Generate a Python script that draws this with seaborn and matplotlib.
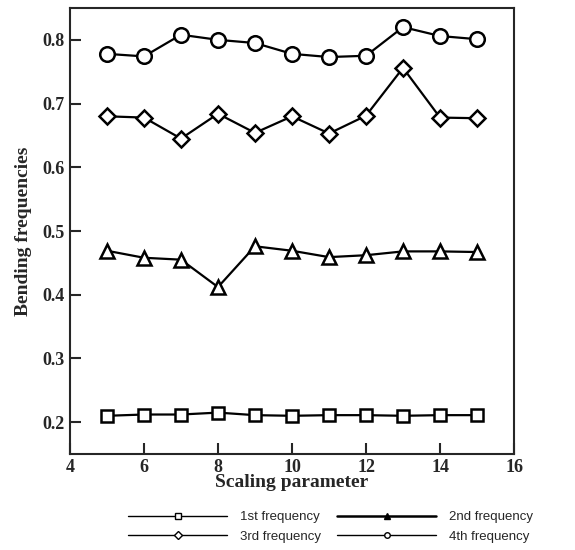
import matplotlib
matplotlib.use("Agg")
import matplotlib.pyplot as plt
import seaborn as sns
import pandas as pd

# Scaling parameter values and the four bending frequencies
scaling = [5, 6, 7, 8, 9, 10, 11, 12, 13, 14, 15]
freq1 = [0.210, 0.212, 0.212, 0.215, 0.211, 0.210, 0.211, 0.211, 0.210, 0.211, 0.211]
freq2 = [0.469, 0.458, 0.455, 0.412, 0.476, 0.469, 0.459, 0.462, 0.468, 0.468, 0.467]
freq3 = [0.680, 0.678, 0.645, 0.684, 0.654, 0.680, 0.653, 0.681, 0.756, 0.678, 0.677]
freq4 = [0.778, 0.774, 0.808, 0.800, 0.795, 0.778, 0.773, 0.775, 0.820, 0.806, 0.801]
series_names = ["1st frequency", "2nd frequency", "3rd frequency", "4th frequency"]
series_values = [freq1, freq2, freq3, freq4]
x_ticks = [4, 6, 8, 10, 12, 14, 16]
y_ticks = [0.2, 0.3, 0.4, 0.5, 0.6, 0.7, 0.8]

rows = []
for name, vals in zip(series_names, series_values):
    for s, v in zip(scaling, vals):
        rows.append({"Scaling parameter": s, "Bending frequencies": v, "series": name})
df = pd.DataFrame(rows)

sns.set_style("ticks")
plt.rcParams["font.family"] = ["Liberation Serif", "DejaVu Serif"]

fig = plt.figure(figsize=(5.75, 5.5), dpi=100)
ax = fig.add_axes([0.1217, 0.1745, 0.7723, 0.811])

markers = {"1st frequency": "s", "2nd frequency": "^",
           "3rd frequency": "D", "4th frequency": "o"}
msize = {"1st frequency": 8.5, "2nd frequency": 9.5,
         "3rd frequency": 8, "4th frequency": 10.5}

for name in series_names:
    sub = df[df["series"] == name]
    sns.lineplot(data=sub, x="Scaling parameter", y="Bending frequencies",
                 ax=ax, color="black", linewidth=1.6, marker=markers[name],
                 markersize=msize[name], markerfacecolor="white",
                 markeredgecolor="black", markeredgewidth=1.8,
                 label=name, legend=False)

ax.set_xlim(4, 16)
ax.set_ylim(0.15, 0.85)
ax.set_xticks(x_ticks)
ax.set_yticks(y_ticks)
ax.set_yticklabels([f"{t:.1f}" for t in y_ticks])
ax.tick_params(direction="in", length=8, width=1.5, labelsize=13,
               top=False, right=False)
for lbl in ax.get_xticklabels() + ax.get_yticklabels():
    lbl.set_fontweight("bold")
for sp in ax.spines.values():
    sp.set_linewidth(1.5)
    sp.set_visible(True)

ax.set_xlabel("Scaling parameter", fontsize=14, fontweight="bold", labelpad=-1)
ax.set_ylabel("Bending frequencies", fontsize=14, fontweight="bold", labelpad=8)

# Legend entries read row by row: 1st, 2nd / 3rd, 4th
handles, labels = ax.get_legend_handles_labels()
order = [0, 2, 1, 3]
leg = fig.legend([handles[i] for i in order], [labels[i] for i in order],
                 loc="center", bbox_to_anchor=(0.575, 0.042),
                 ncol=2, frameon=False, handlelength=7.5, handletextpad=1.0,
                 columnspacing=1.2, labelspacing=0.55,
                 prop={"family": "Liberation Sans", "size": 9.5})
for h, lab in zip(leg.legend_handles, [labels[i] for i in order]):
    h.set_markersize(4)
    h.set_markeredgewidth(1.0)
    h.set_linewidth(1.0)
    if lab == "2nd frequency":
        h.set_markerfacecolor("black")
        h.set_linewidth(1.8)

fig.savefig("out.png", dpi=100)
